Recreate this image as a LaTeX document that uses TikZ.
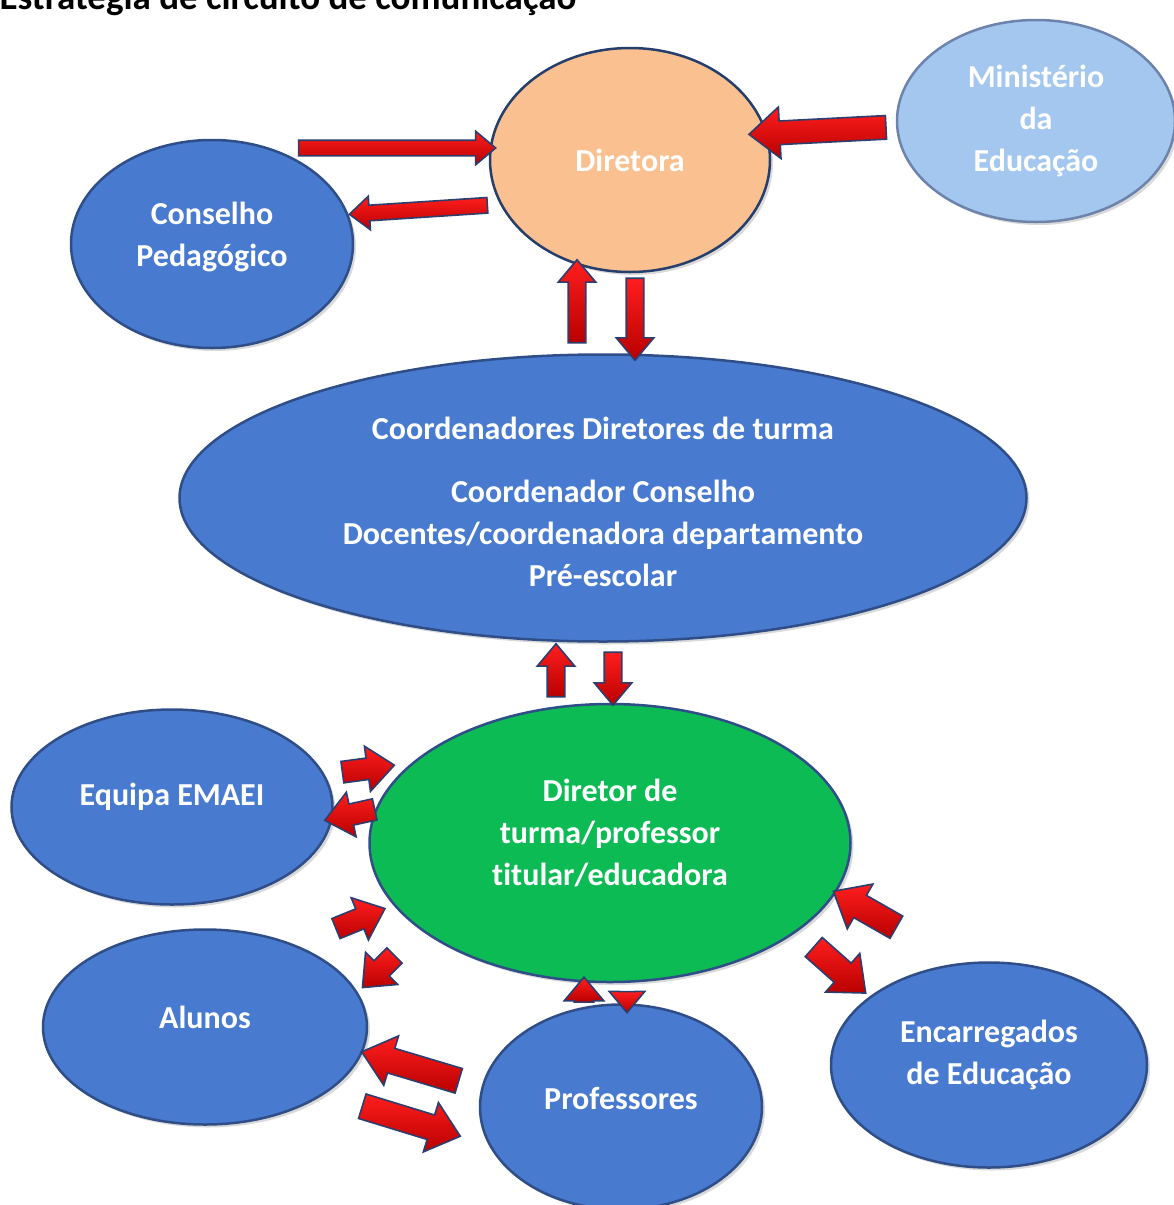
\documentclass[tikz,border=0pt]{standalone}
\usepackage{fontspec}
\setmainfont{Carlito}[Ligatures=NoCommon]
\usetikzlibrary{shapes.geometric,shapes.arrows,calc,shadows}
\definecolor{bluefill}{RGB}{72,122,208}
\definecolor{bluebord}{RGB}{47,78,135}
\definecolor{peach}{RGB}{250,192,143}
\definecolor{lightblue}{RGB}{163,199,238}
\definecolor{greenfill}{RGB}{12,187,84}
\definecolor{arrowline}{RGB}{44,62,110}
\definecolor{redtop}{RGB}{255,30,30}
\definecolor{redbot}{RGB}{185,0,0}
\newcommand\blockarr[5]{%
  \path let \p1=#2, \p2=#3, \n1={atan2(\y2-\y1,\x2-\x1)}, \n2={veclen(\x2-\x1,\y2-\y1)} in
    node[blockarrow, rotate=\n1, minimum height=\n2, inner ysep=#4pt, single arrow head extend=#5pt] (#1) at ($#2!0.5!#3$) {};}
\begin{document}
\begin{tikzpicture}[x=1pt,y=-1pt,
  bubble/.style={ellipse, draw=bluebord, line width=2.5pt, inner sep=0pt, fill=bluefill,
    drop shadow={shadow xshift=3pt, shadow yshift=-3pt, opacity=0.3}},
  txt/.style={text=white, font=\fontsize{32}{42}\selectfont\bfseries, align=center},
  blockarrow/.style={single arrow, draw=arrowline, line width=1.6pt, top color=redtop, bottom color=redbot,
    inner xsep=0pt, outer sep=0pt, single arrow tip angle=80}
]
\useasboundingbox (0,0) rectangle (1173,1205);
\node[anchor=base west, font=\fontsize{37}{44}\selectfont\bfseries] (title) at (-4,9) {Estratégia de circuito de comunicação};

\node[bubble, fill=peach, draw=bluebord!80!black, minimum width=280, minimum height=224,
  label={[txt]center:Diretora}] (dir) at (630,160) {};
\node[bubble, fill=lightblue, draw=bluebord!70, minimum width=278, minimum height=202,
  label={[txt]center:Ministério\\da\\Educação}] (min) at (1036,121) {};
\node[bubble, minimum width=282, minimum height=208,
  label={[txt, yshift=7pt]center:Conselho\\Pedagógico}] (cons) at (212,244) {};
\node[bubble, minimum width=847, minimum height=287,
  label={[txt, yshift=-4pt]center:Coordenadores Diretores de turma\\[21pt]Coordenador Conselho\\Docentes/coordenadora departamento\\Pré-escolar}] (coord) at (603,498) {};
\node[bubble, fill=greenfill, minimum width=481, minimum height=278,
  label={[txt, yshift=10pt]center:Diretor de\\turma/professor\\titular/educadora}] (dt) at (610,843) {};
\node[bubble, minimum width=321, minimum height=195,
  label={[txt, yshift=10pt]center:Equipa EMAEI}] (emaei) at (172,807) {};
\node[bubble, minimum width=324, minimum height=195,
  label={[txt, yshift=10pt]center:Alunos}] (alunos) at (205,1027) {};
\node[bubble, minimum width=282, minimum height=205,
  label={[txt, yshift=9pt]center:Professores}] (prof) at (621,1107) {};
\node[bubble, minimum width=316, minimum height=205,
  label={[txt, yshift=10pt]center:Encarregados\\de Educação}] (enc) at (989,1065) {};

\blockarr{a1}{(294,148)}{(491,148)}{7}{9}
\blockarr{a2}{(492,205)}{(354,214)}{7}{9}
\blockarr{a3}{(893,127)}{(756,134)}{11}{14}
\blockarr{a4}{(577,348)}{(577,265)}{8}{10}
\blockarr{a5}{(635,273)}{(635,355)}{8}{10}
\blockarr{a6}{(556,702)}{(556,649)}{8}{10}
\blockarr{a7}{(613,647)}{(613,700)}{8}{10}
\blockarr{a8}{(336,773)}{(388,766)}{10}{12}
\blockarr{a9}{(381,808)}{(331,819)}{10}{12}
\blockarr{a10}{(330,931)}{(379,911)}{10}{12}
\blockarr{a11}{(399,951)}{(367,983)}{10}{12}
\blockarr{a12}{(584,1008)}{(584,983)}{9}{10}
\blockarr{a13}{(627,987)}{(627,1008)}{7}{10}
\blockarr{a14}{(466,1083)}{(369,1054)}{12}{13}
\blockarr{a15}{(355,1104)}{(453,1134)}{12}{13}
\blockarr{a16}{(903,931)}{(840,895)}{12}{13}
\blockarr{a17}{(808,942)}{(860,988)}{12}{13}
\end{tikzpicture}
\end{document}
